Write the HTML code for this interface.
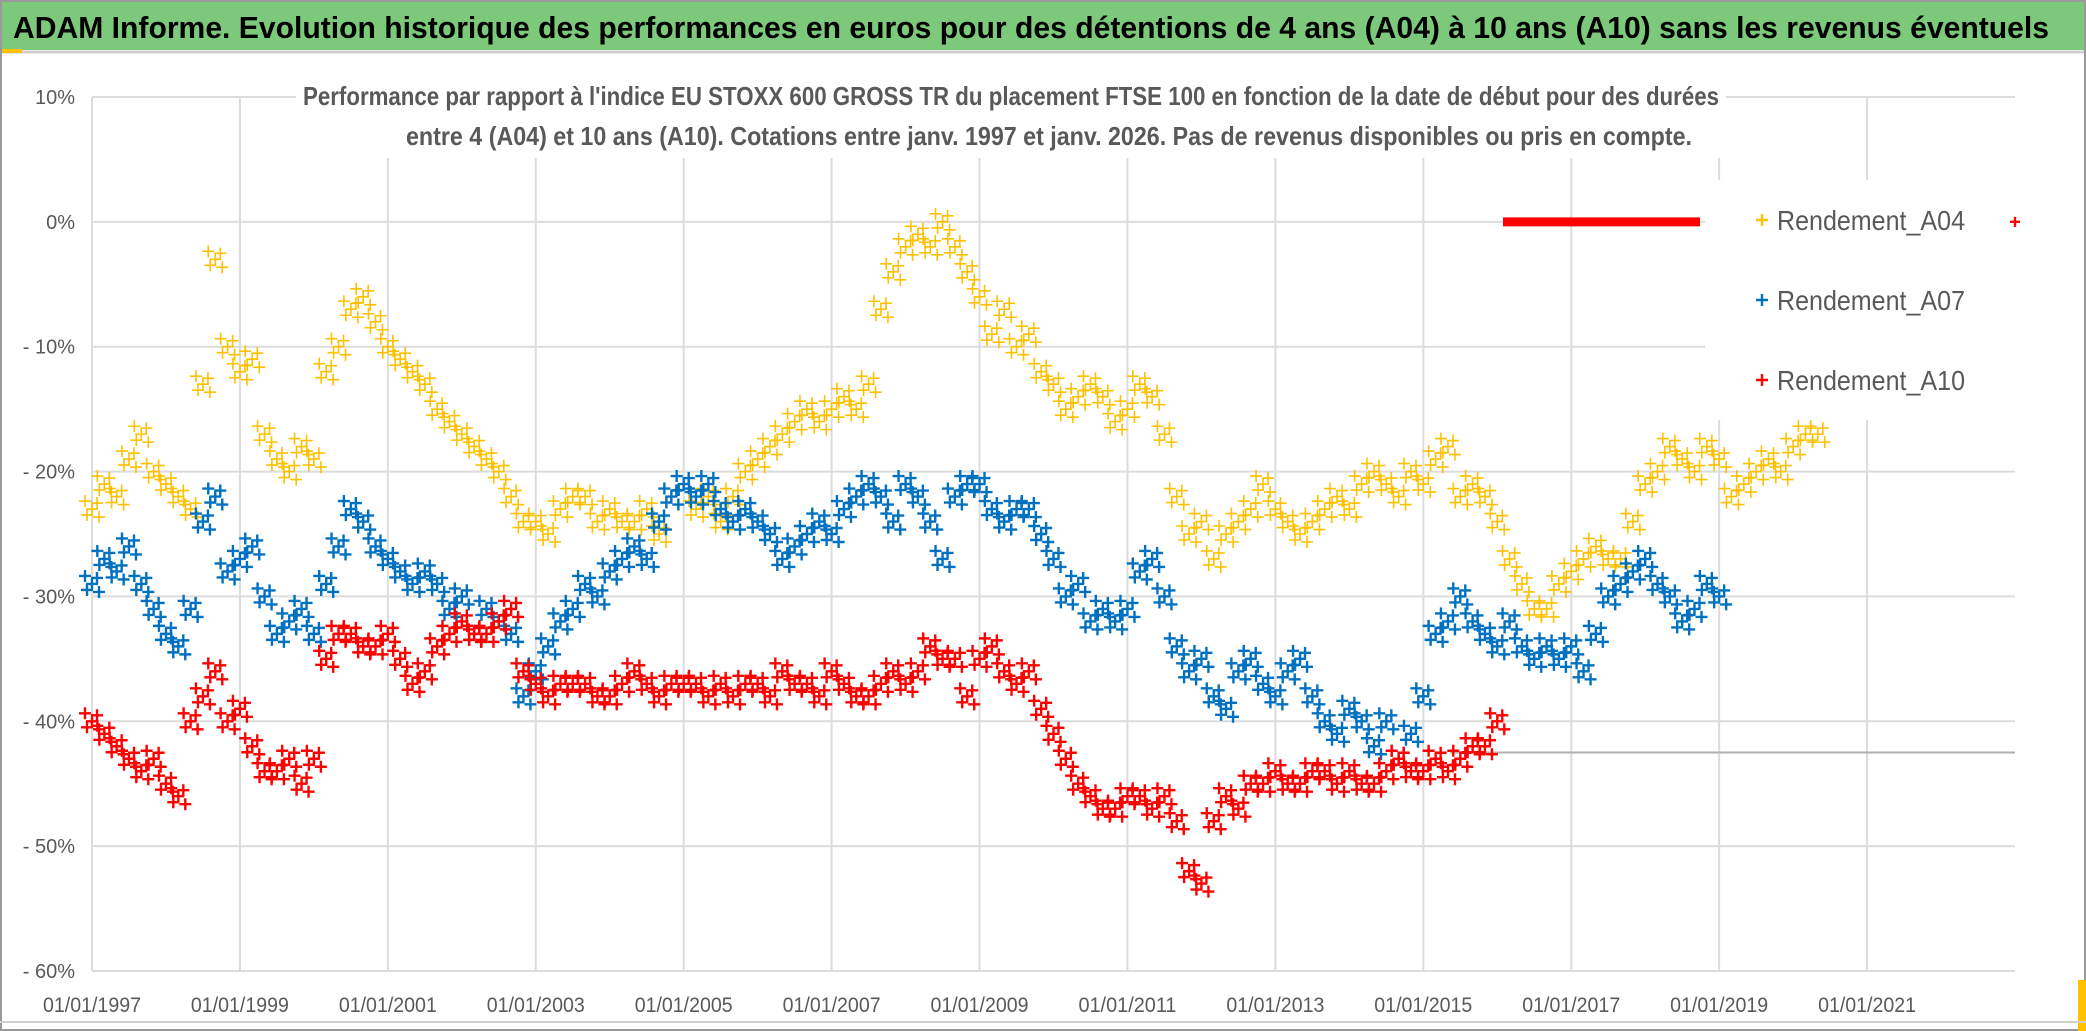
<!DOCTYPE html>
<html><head><meta charset="utf-8"><style>
html,body{margin:0;padding:0;background:#fff}
svg{display:block;font-family:"Liberation Sans",sans-serif}
</style></head><body>
<svg id="chart" width="2086" height="1031" viewBox="0 0 2086 1031" xmlns="http://www.w3.org/2000/svg">
<rect x="0" y="0" width="2086" height="1031" fill="#fff"/>
<rect x="0" y="0" width="2086" height="50" fill="#7dc97b"/>
<line x1="0" y1="52" x2="2086" y2="52" stroke="#d0d0d0" stroke-width="3"/>
<rect x="0" y="49" width="22" height="4" fill="#ffc000"/>
<text x="13" y="38" font-size="31" font-weight="bold" fill="#000" textLength="2036" lengthAdjust="spacingAndGlyphs">ADAM Informe. Evolution historique des performances en euros pour des détentions de 4 ans (A04) à 10 ans (A10) sans les revenus éventuels</text>
<g id="grid"></g>
<g id="marks"></g>
<rect x="296" y="78" width="1430" height="80" fill="#fff"/>
<text x="303" y="105" font-size="26" font-weight="bold" fill="#595959" textLength="1416" lengthAdjust="spacingAndGlyphs">Performance par rapport à l'indice EU STOXX 600 GROSS TR  du placement FTSE 100 en fonction de la date de début pour des durées</text>
<text x="406" y="145" font-size="26" font-weight="bold" fill="#595959" textLength="1286" lengthAdjust="spacingAndGlyphs">entre 4 (A04) et 10 ans (A10). Cotations entre janv. 1997 et janv. 2026. Pas de revenus disponibles ou pris en compte.</text>
<g id="legend">
<rect x="1705" y="180" width="310" height="240" fill="#fff"/>
</g>
<g id="axes"></g>
<rect x="1" y="1" width="2084" height="1029" fill="none" stroke="#999" stroke-width="2"/>
<rect x="2078" y="980" width="8" height="51" fill="#ffc000"/>
<line x1="0" y1="1022" x2="2086" y2="1022" stroke="#d0d0d0" stroke-width="2"/>
</svg>
<script>
const xTickLabels=["01/01/1997","01/01/1999","01/01/2001","01/01/2003","01/01/2005","01/01/2007","01/01/2009","01/01/2011","01/01/2013","01/01/2015","01/01/2017","01/01/2019","01/01/2021"];
const xTickYears=[1997,1999,2001,2003,2005,2007,2009,2011,2013,2015,2017,2019,2021];
const yTicks=[10,0,-10,-20,-30,-40,-50,-60];
const yTickLabels=["10%","0%","- 10%","- 20%","- 30%","- 40%","- 50%","- 60%"];
const startYear=1997;
const stepYears=1/6;
const a04=[-23,-21,-22,-19,-17,-20,-21,-22,-23,-13,-3,-10,-12,-11,-17,-19,-20,-18,-19,-12,-10,-7,-6,-8,-10,-11,-12,-13,-15,-16,-17,-18,-19,-20,-22,-24,-24,-25,-23,-22,-22,-24,-23,-24,-24,-23,-25,-22,-21,-23,-22,-24,-22,-20,-19,-18,-17,-16,-15,-16,-15,-14,-15,-13,-7,-4,-2,-1,-2,0,-2,-4,-6,-9,-7,-10,-9,-12,-13,-15,-14,-13,-14,-16,-15,-13,-14,-17,-22,-25,-24,-27,-25,-24,-23,-21,-23,-24,-25,-24,-23,-22,-23,-21,-20,-21,-22,-20,-21,-19,-18,-22,-21,-22,-24,-27,-29,-31,-31,-29,-28,-27,-26,-27,-27,-24,-21,-20,-18,-19,-20,-18,-19,-22,-21,-20,-19,-20,-18,-17,-17];
const a07=[-29,-27,-28,-26,-29,-31,-33,-34,-31,-24,-22,-28,-27,-26,-30,-33,-32,-31,-33,-29,-26,-23,-24,-26,-27,-28,-29,-28,-29,-31,-30,-33,-31,-32,-33,-38,-36,-34,-32,-31,-29,-30,-28,-27,-26,-27,-24,-22,-21,-22,-21,-23,-24,-23,-24,-25,-27,-26,-25,-24,-25,-23,-22,-21,-22,-24,-21,-22,-24,-27,-22,-21,-21,-23,-24,-23,-23,-25,-27,-30,-29,-32,-31,-32,-31,-28,-27,-30,-34,-36,-35,-38,-39,-36,-35,-37,-38,-36,-35,-38,-40,-41,-39,-40,-42,-40,-43,-41,-38,-33,-32,-30,-32,-33,-34,-32,-34,-35,-34,-35,-34,-36,-33,-30,-29,-28,-27,-29,-30,-32,-31,-29,-30];
const a10=[-40,-41,-42,-43,-44,-43,-45,-46,-40,-38,-36,-40,-39,-42,-44,-44,-43,-45,-43,-35,-33,-33,-34,-34,-33,-35,-37,-36,-34,-33,-32,-33,-33,-32,-31,-36,-37,-38,-37,-37,-37,-38,-38,-37,-36,-37,-38,-37,-37,-37,-38,-37,-38,-37,-37,-38,-36,-37,-37,-38,-36,-37,-38,-38,-37,-36,-37,-36,-34,-35,-35,-38,-35,-34,-36,-37,-36,-39,-41,-43,-45,-46,-47,-47,-46,-46,-47,-46,-48,-52,-53,-48,-46,-47,-45,-45,-44,-45,-45,-44,-44,-45,-44,-45,-45,-44,-43,-44,-44,-43,-44,-43,-42,-42,-40];
const series=[{name:"Rendement_A04",vals:a04,color:"#ffc000",w:1.6},{name:"Rendement_A07",vals:a07,color:"#0070c0",w:2.4},{name:"Rendement_A10",vals:a10,color:"#ff0000",w:2.4}];
const NS="http://www.w3.org/2000/svg";
const X0=92,X1=2015,xMin=1997,xMax=2023,Y0=97,Y1=971,yMax=10,yMin=-60;
function xs(yr){return X0+(yr-xMin)/(xMax-xMin)*(X1-X0);}
function ys(v){return Y0+(yMax-v)/(yMax-yMin)*(Y1-Y0);}
function mk(tag,attrs,parent){const e=document.createElementNS(NS,tag);for(const k in attrs)e.setAttribute(k,attrs[k]);parent.appendChild(e);return e;}
const grid=document.getElementById('grid'),axes=document.getElementById('axes'),marks=document.getElementById('marks'),legend=document.getElementById('legend');
yTicks.forEach((t,i)=>{
 const l=mk('line',{x1:X0,x2:X1,y1:ys(t),y2:ys(t),stroke:'#dcdcdc','stroke-width':2},grid);
 
 
 const tx=mk('text',{x:75,y:ys(t)+7,'font-size':20,fill:'#595959','text-anchor':'end'},axes);
 tx.textContent=yTickLabels[i];
 
 
});
xTickYears.forEach((yr,i)=>{
 const l=mk('line',{x1:xs(yr),x2:xs(yr),y1:Y0,y2:Y1,stroke:'#dcdcdc','stroke-width':2},grid);
 
 
 const tx=mk('text',{x:xs(yr),y:1012,'font-size':21,fill:'#595959','text-anchor':'middle',textLength:98,lengthAdjust:'spacingAndGlyphs'},axes);
 tx.textContent=xTickLabels[i];
 
 
});
const hl=mk('line',{x1:1450,x2:X1,y1:ys(-42.5),y2:ys(-42.5),stroke:'#b0b0b0','stroke-width':2},grid);


const offs=[[0,0],[-7,-8],[7,8],[5,-6],[-5,6]];
series.forEach(s=>{
 const g=mk('g',{stroke:s.color,'stroke-width':s.w},marks);
 
 
 let d='';
 s.vals.forEach((v,i)=>{
  const cx=xs(startYear+i*stepYears),cy=ys(v);
  offs.forEach(o=>{const x=cx+o[0],y=cy+o[1];d+=`M${x-6} ${y}h12M${x} ${y-6}v12`;});
 });
 const p=mk('path',{d:d,fill:'none'},g);
 
 
});
// artifact red bar at 0%
const rb=mk('line',{x1:1503,x2:1700,y1:ys(0),y2:ys(0),stroke:'#ff0000','stroke-width':9},marks);


const lys=[220,300,380];
series.forEach((s,i)=>{
 const m=mk('path',{d:`M1756 ${lys[i]}h12M1762 ${lys[i]-6}v12`,stroke:s.color,'stroke-width':2.4},legend);
 
 
 const t=mk('text',{x:1777,y:lys[i]+10,'font-size':28,fill:'#595959',textLength:188,lengthAdjust:'spacingAndGlyphs'},legend);
 t.textContent=s.name;
 
 
});
const rm=mk('path',{d:`M2010 ${ys(0)}h10M2015 ${ys(0)-5}v10`,stroke:'#ff0000','stroke-width':2.4},legend);


</script>
</body></html>
